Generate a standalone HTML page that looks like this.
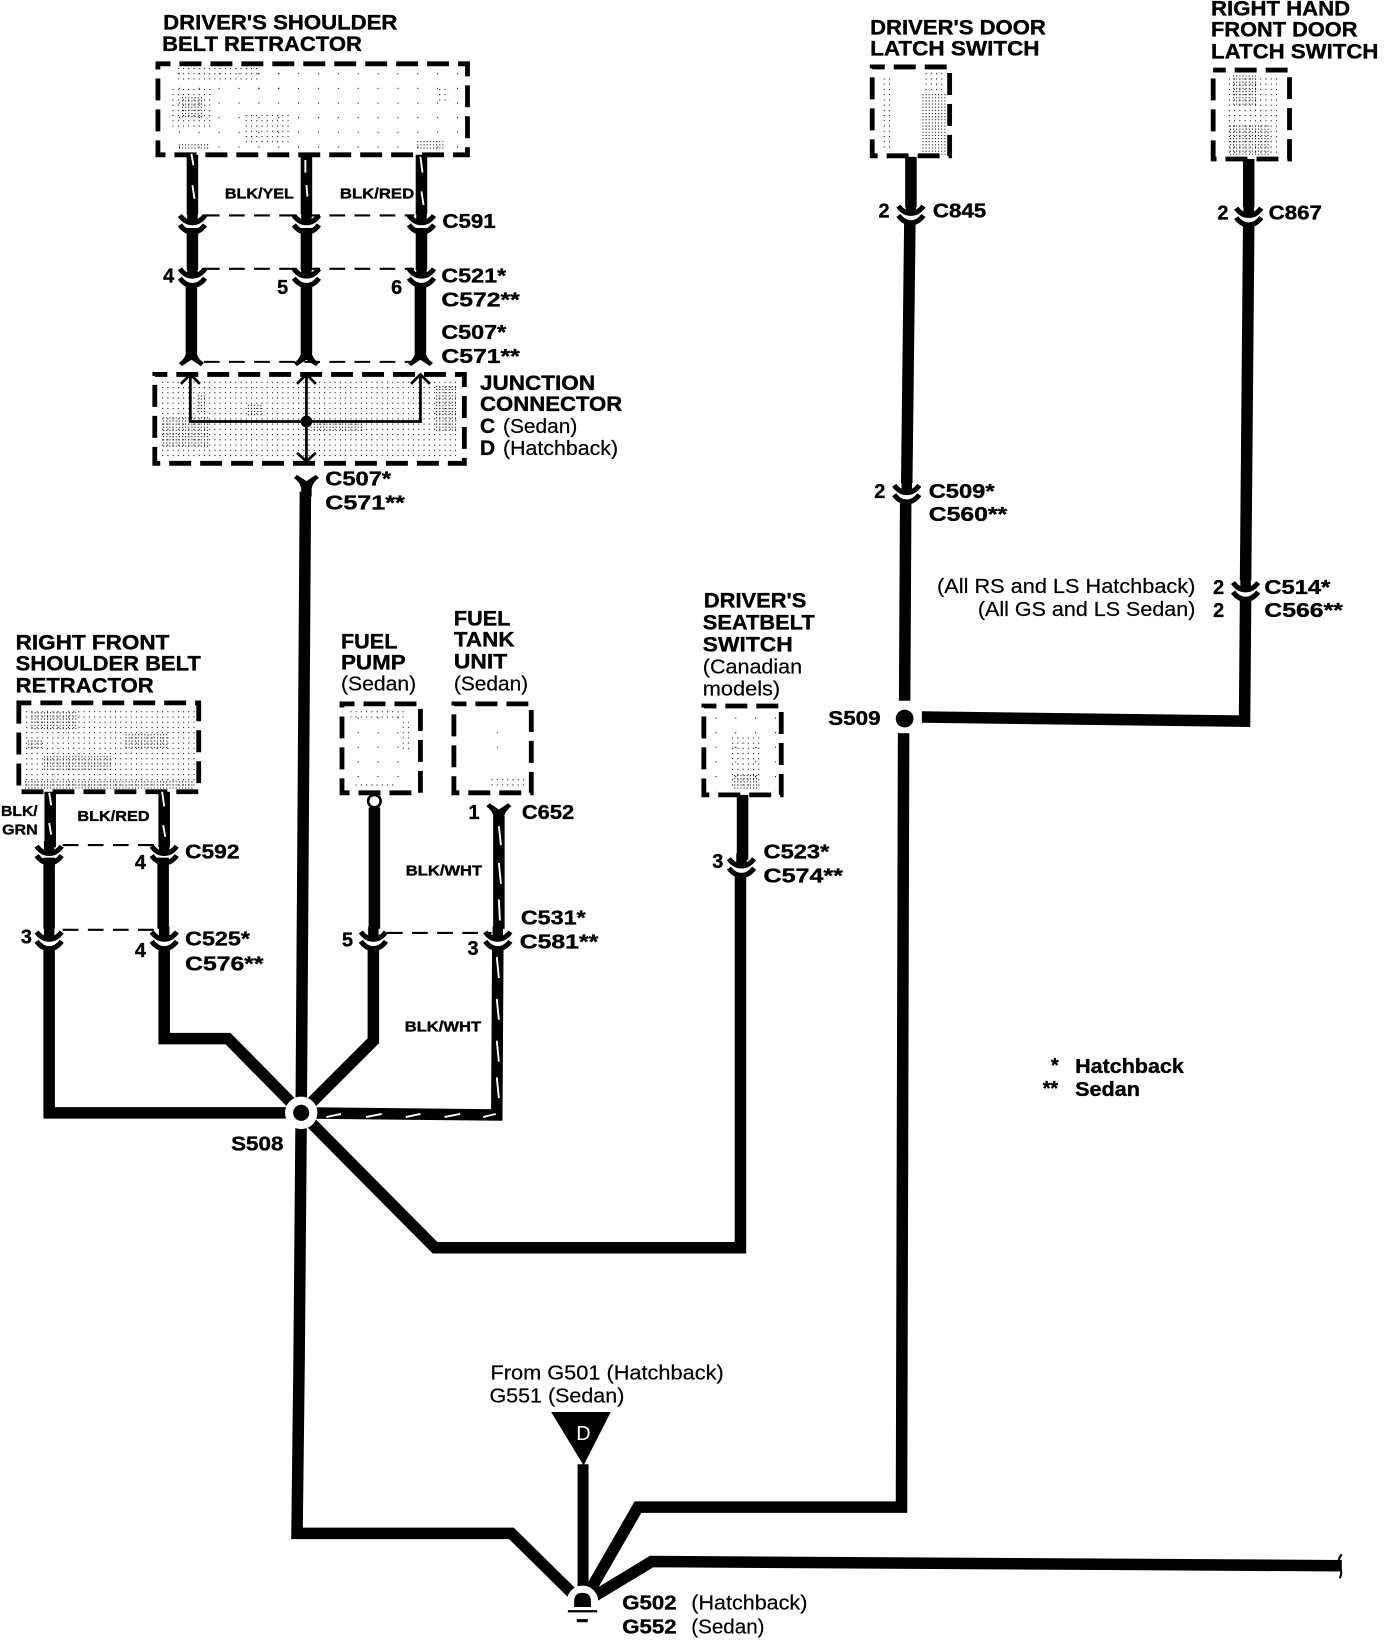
<!DOCTYPE html>
<html><head><meta charset="utf-8"><style>
html,body{margin:0;padding:0;background:#fff;width:1392px;height:1640px;overflow:hidden}
svg{display:block}
text{font-family:"Liberation Sans",sans-serif;fill:#000}
.b{font-weight:bold;font-size:20px}
.b text,.n text,.s text{stroke:#000;stroke-width:.35}
.n{font-weight:bold;font-size:19px}
.s{font-weight:bold;font-size:14px}
.r{font-size:19px}
.r text{stroke:#000;stroke-width:.2}
.w{fill:none;stroke:#000;stroke-width:11;stroke-linejoin:miter}
.d{fill:none;stroke:#000;stroke-width:2;stroke-dasharray:15 9}
.x{fill:none;stroke:#000;stroke-width:4.6;stroke-dasharray:21 8.6;stroke-dashoffset:9}
.t{fill:none;stroke:#fff;stroke-width:1.8}
.i{fill:none;stroke:#000;stroke-width:2.6}
</style></head><body>
<svg xmlns="http://www.w3.org/2000/svg" width="1392" height="1640" viewBox="0 0 1331 1568" preserveAspectRatio="none">
<defs>
<pattern id="p1" width="3" height="3" patternUnits="userSpaceOnUse"><rect width="1" height="1" fill="#000"/></pattern>
<pattern id="p2" width="5" height="5" patternUnits="userSpaceOnUse"><rect width="1" height="1" fill="#000"/></pattern>
<pattern id="p3" width="19" height="14" patternUnits="userSpaceOnUse"><rect width="1" height="1" fill="#000"/></pattern>
<g id="c">
<path d="M-5-14H5V-3H-5Z"/>
<path d="M-12-9Q-7-2 0-2Q7-2 12-9" fill="none" stroke="#000" stroke-width="4.8"/>
<path d="M-12 0Q-7 7 0 7Q7 7 12 0" fill="none" stroke="#000" stroke-width="4.8"/>
</g>
<path id="f" d="M-5-14H5V-6Q6 0 12 4L9 7Q3 3 0 1Q-3 3-9 7L-12 4Q-6 0-5-6Z"/>
<g id="y"><use href="#f" transform="scale(1,-1)"/></g>
</defs>
<rect width="1331" height="1568" fill="#fff"/>

<!-- driver's shoulder belt retractor -->
<rect x="155" y="65" width="288" height="80" fill="url(#p3)"/>
<rect x="170" y="64" width="24" height="12" fill="url(#p2)"/><rect x="194" y="64" width="55" height="12" fill="url(#p2)"/>
<rect x="162" y="85" width="42" height="37" fill="url(#p2)"/><rect x="172" y="92" width="22" height="22" fill="url(#p1)"/>
<rect x="232" y="108" width="44" height="30" fill="url(#p2)"/><rect x="232" y="67" width="39" height="29" fill="url(#p3)"/>
<rect x="170" y="137" width="31" height="6" fill="url(#p1)"/><rect x="417" y="83" width="13" height="16" fill="url(#p2)"/><rect x="398" y="134" width="26" height="9" fill="url(#p1)"/>
<rect class="x" x="151" y="61" width="296" height="87"/>
<!-- junction -->
<rect x="152" y="363" width="287" height="76" fill="url(#p2)"/>
<rect x="154" y="398" width="46" height="30" fill="url(#p1)"/><rect x="416" y="368" width="20" height="46" fill="url(#p1)"/>
<rect x="296" y="405" width="51" height="9" fill="url(#p1)"/><rect x="188" y="376" width="9" height="19" fill="url(#p1)"/><rect x="236" y="385" width="16" height="13" fill="url(#p1)"/>
<rect class="x" x="148" y="358" width="296" height="85"/>
<!-- right front -->
<rect x="22" y="676" width="164" height="78" fill="url(#p2)"/>
<rect x="29" y="679" width="44" height="19" fill="url(#p1)"/><rect x="22" y="745" width="164" height="9" fill="url(#p1)"/>
<rect x="118" y="701" width="44" height="16" fill="url(#p1)"/><rect x="41" y="723" width="67" height="13" fill="url(#p1)"/>
<rect x="25" y="707" width="16" height="10" fill="url(#p1)"/>
<rect class="x" x="18" y="672" width="172" height="85"/>
<!-- small boxes -->
<rect x="332" y="678" width="65" height="76" fill="url(#p3)"/><rect x="335" y="678" width="55" height="8" fill="url(#p2)"/><rect x="340" y="748" width="40" height="7" fill="url(#p2)"/><rect x="385" y="690" width="10" height="30" fill="url(#p2)"/>
<rect class="x" x="327" y="673" width="75" height="85"/>
<rect x="470" y="742" width="32" height="12" fill="url(#p2)"/><rect x="465" y="700" width="15" height="15" fill="url(#p3)"/>
<rect class="x" x="434" y="673" width="74" height="85"/>
<rect x="678" y="680" width="64" height="76" fill="url(#p3)"/><rect x="698" y="705" width="30" height="50" fill="url(#p2)"/><rect x="702" y="740" width="24" height="14" fill="url(#p1)"/>
<rect class="x" x="673" y="675" width="74" height="85"/>
<rect x="841" y="75" width="13" height="70" fill="url(#p2)"/><rect x="880" y="88" width="25" height="60" fill="url(#p1)"/><rect x="885" y="68" width="18" height="20" fill="url(#p2)"/>
<rect class="x" x="834" y="64" width="74" height="85"/>
<rect x="1171" y="72" width="50" height="76" fill="url(#p2)"/><rect x="1175" y="120" width="40" height="28" fill="url(#p1)"/><rect x="1178" y="72" width="25" height="30" fill="url(#p1)"/>
<rect class="x" x="1160" y="67" width="73" height="85"/>

<!-- top wires -->
<path class="w" d="M184 148V205M184 218V258M183 272V338"/>
<path class="w" d="M293 148V205M293 218V258M293 272V338"/>
<path class="w" d="M403 148V205M403 218V258M402 272V338"/>
<path class="t" d="M183 147L185 158M184 177L186 190M292 153V165M293 177L294 188M402 150L404 165M403 183L405 196"/>
<path class="d" d="M195 206H396M195 257H396M195 346H396"/>
<use href="#c" x="184" y="215"/><use href="#c" x="293" y="215"/><use href="#c" x="403" y="215"/>
<use href="#c" x="184" y="266"/><use href="#c" x="293" y="266"/><use href="#c" x="403" y="266"/>
<use href="#f" x="183" y="343"/><use href="#f" x="293" y="343"/><use href="#f" x="402" y="343"/>
<!-- junction inner -->
<path class="i" d="M182 358V403H402V358M293 358V441"/>
<circle cx="293" cy="403" r="5.6"/>
<path class="i" d="M173 367L182 358L191 367M284 367L293 358L302 367M393 367L402 358L411 367M284 433L293 441L302 433"/>
<!-- S508 trunk -->
<use href="#y" x="293" y="461"/>
<path class="w" d="M292 470L288 1064L286 1300L284 1466H489L557 1533"/>
<!-- right front wires -->
<path class="w" d="M48 757V810M47 820V888M47 905V1064H288"/>
<path class="w" d="M157 757V810M156 820V888M157 905V993H218L288 1064"/>
<path class="t" d="M47 758L49 770M47 787L49 798M155 757L157 771M156 789L158 800"/>
<path class="d" d="M60 808H150M60 889H150"/>
<use href="#c" x="47" y="818"/><use href="#c" x="157" y="818"/><use href="#c" x="47" y="900"/><use href="#c" x="157" y="900"/>
<!-- fuel pump -->
<circle cx="358" cy="766" r="6" fill="#fff" stroke="#000" stroke-width="2.5"/>
<path class="w" d="M358 772V888M357 905V995L288 1064"/>
<use href="#c" x="357" y="900"/>
<path class="d" d="M370 892H470"/>
<!-- fuel tank -->
<use href="#y" x="477" y="775"/>
<path class="w" d="M477 780V888M476 905L475 1066L288 1064"/>
<path class="t" d="M477 790L479 808M477 825L479 845M477 860L478 880M475 915L477 935M475 955L477 975M475 995L477 1015M475 1030L477 1050M312 1068L326 1065M350 1068L365 1065M388 1068L402 1065M425 1068L440 1065M462 1068L474 1065"/>
<use href="#c" x="476" y="900"/>
<!-- seatbelt -->
<path class="w" d="M710 760V822M708 838V1193H416L288 1064"/>
<use href="#c" x="709" y="830"/>
<!-- door -->
<path class="w" d="M871 150V198M870 212L867 462M866 480L865 670M864 701L862 1441H610L557 1533"/>
<use href="#c" x="871" y="206"/><use href="#c" x="867" y="473"/>
<circle cx="865" cy="687" r="8.5"/>
<path class="w" d="M1194 152V198M1194 214L1191 555M1191 572L1190 689.5L881.5 685.5"/>
<use href="#c" x="1194" y="208"/><use href="#c" x="1191" y="566"/>
<!-- S508 -->
<circle cx="288" cy="1064" r="15.5" fill="#fff"/><circle cx="288" cy="1064" r="7.7" fill="#000"/>
<!-- ground -->
<path d="M527 1350H584L558 1401Z"/>
<path d="M557.5 1400V1530" stroke="#000" stroke-width="10.5" fill="none"/>
<path class="w" d="M557 1533L623 1493L1283 1497"/>
<path d="M1283 1486Q1278 1492 1281 1498Q1284 1503 1281 1509" fill="none" stroke="#000" stroke-width="2"/>
<path d="M535 1533H580V1568H535Z" fill="#fff"/>
<circle cx="557" cy="1531" r="15" fill="#fff"/>
<path d="M549 1536.5V1531Q549 1523 557 1523Q565 1523 565 1531V1536.5Z"/>
<path d="M543 1540.5H571" stroke="#000" stroke-width="2.2"/>
<path d="M551.5 1549.5H562" stroke="#000" stroke-width="3"/>

<!-- labels -->
<g class="b">
<text x="156" y="28" textLength="224" lengthAdjust="spacingAndGlyphs">DRIVER'S SHOULDER</text>
<text x="155" y="49" textLength="191" lengthAdjust="spacingAndGlyphs">BELT RETRACTOR</text>
<text x="459" y="373" textLength="110" lengthAdjust="spacingAndGlyphs">JUNCTION</text>
<text x="459" y="393" textLength="136" lengthAdjust="spacingAndGlyphs">CONNECTOR</text>
<text x="459" y="414">C</text><text x="459" y="435">D</text>
<text x="15" y="621" textLength="147" lengthAdjust="spacingAndGlyphs">RIGHT FRONT</text>
<text x="15" y="641" textLength="177" lengthAdjust="spacingAndGlyphs">SHOULDER BELT</text>
<text x="15" y="662" textLength="132" lengthAdjust="spacingAndGlyphs">RETRACTOR</text>
<text x="326" y="620" textLength="54" lengthAdjust="spacingAndGlyphs">FUEL</text>
<text x="326" y="640" textLength="62" lengthAdjust="spacingAndGlyphs">PUMP</text>
<text x="434" y="598" textLength="54" lengthAdjust="spacingAndGlyphs">FUEL</text>
<text x="434" y="618" textLength="58" lengthAdjust="spacingAndGlyphs">TANK</text>
<text x="434" y="639" textLength="51" lengthAdjust="spacingAndGlyphs">UNIT</text>
<text x="673" y="581" textLength="98" lengthAdjust="spacingAndGlyphs">DRIVER'S</text>
<text x="672" y="602" textLength="107" lengthAdjust="spacingAndGlyphs">SEATBELT</text>
<text x="672" y="623" textLength="86" lengthAdjust="spacingAndGlyphs">SWITCH</text>
<text x="832" y="33" textLength="168" lengthAdjust="spacingAndGlyphs">DRIVER'S DOOR</text>
<text x="832" y="53" textLength="162" lengthAdjust="spacingAndGlyphs">LATCH SWITCH</text>
<text x="1158" y="15" textLength="133" lengthAdjust="spacingAndGlyphs">RIGHT HAND</text>
<text x="1158" y="35" textLength="140" lengthAdjust="spacingAndGlyphs">FRONT DOOR</text>
<text x="1158" y="56" textLength="160" lengthAdjust="spacingAndGlyphs">LATCH SWITCH</text>
</g>
<g class="s">
<text x="215" y="190" textLength="66" lengthAdjust="spacingAndGlyphs">BLK/YEL</text>
<text x="325" y="190" textLength="71" lengthAdjust="spacingAndGlyphs">BLK/RED</text>
<text x="1" y="780" textLength="35" lengthAdjust="spacingAndGlyphs">BLK/</text>
<text x="2" y="798" textLength="34" lengthAdjust="spacingAndGlyphs">GRN</text>
<text x="74" y="785" textLength="69" lengthAdjust="spacingAndGlyphs">BLK/RED</text>
<text x="388" y="837" textLength="73" lengthAdjust="spacingAndGlyphs">BLK/WHT</text>
<text x="387" y="986" textLength="73" lengthAdjust="spacingAndGlyphs">BLK/WHT</text>
</g>
<g class="n">
<text x="423" y="218" textLength="51" lengthAdjust="spacingAndGlyphs">C591</text>
<text x="156" y="270">4</text><text x="265" y="281">5</text><text x="374" y="281">6</text>
<text x="422" y="270" textLength="62" lengthAdjust="spacingAndGlyphs">C521*</text>
<text x="422" y="293" textLength="75" lengthAdjust="spacingAndGlyphs">C572**</text>
<text x="422" y="324" textLength="62" lengthAdjust="spacingAndGlyphs">C507*</text>
<text x="422" y="347" textLength="75" lengthAdjust="spacingAndGlyphs">C571**</text>
<text x="311" y="464" textLength="63" lengthAdjust="spacingAndGlyphs">C507*</text>
<text x="311" y="487" textLength="76" lengthAdjust="spacingAndGlyphs">C571**</text>
<text x="177" y="821" textLength="52" lengthAdjust="spacingAndGlyphs">C592</text>
<text x="129" y="831">4</text><text x="20" y="902">3</text><text x="129" y="915">4</text>
<text x="177" y="904" textLength="62" lengthAdjust="spacingAndGlyphs">C525*</text>
<text x="177" y="928" textLength="75" lengthAdjust="spacingAndGlyphs">C576**</text>
<text x="448" y="783">1</text>
<text x="499" y="783" textLength="50" lengthAdjust="spacingAndGlyphs">C652</text>
<text x="498" y="884" textLength="62" lengthAdjust="spacingAndGlyphs">C531*</text>
<text x="497" y="907" textLength="75" lengthAdjust="spacingAndGlyphs">C581**</text>
<text x="327" y="905">5</text><text x="447" y="913">3</text>
<text x="730" y="821" textLength="63" lengthAdjust="spacingAndGlyphs">C523*</text>
<text x="730" y="844" textLength="76" lengthAdjust="spacingAndGlyphs">C574**</text>
<text x="681" y="830">3</text>
<text x="221" y="1100" textLength="50" lengthAdjust="spacingAndGlyphs">S508</text>
<text x="792" y="693" textLength="50" lengthAdjust="spacingAndGlyphs">S509</text>
<text x="840" y="208">2</text>
<text x="892" y="208" textLength="51" lengthAdjust="spacingAndGlyphs">C845</text>
<text x="1164" y="210">2</text>
<text x="1213" y="210" textLength="51" lengthAdjust="spacingAndGlyphs">C867</text>
<text x="836" y="476">2</text>
<text x="888" y="476" textLength="63" lengthAdjust="spacingAndGlyphs">C509*</text>
<text x="888" y="498" textLength="75" lengthAdjust="spacingAndGlyphs">C560**</text>
<text x="1160" y="568">2</text><text x="1160" y="590">2</text>
<text x="1209" y="568" textLength="63" lengthAdjust="spacingAndGlyphs">C514*</text>
<text x="1209" y="590" textLength="75" lengthAdjust="spacingAndGlyphs">C566**</text>
<text x="1005" y="1025">*</text>
<text x="1028" y="1026" textLength="104" lengthAdjust="spacingAndGlyphs">Hatchback</text>
<text x="997" y="1047">**</text>
<text x="1028" y="1048" textLength="62" lengthAdjust="spacingAndGlyphs">Sedan</text>
<text x="595" y="1539" textLength="52" lengthAdjust="spacingAndGlyphs">G502</text>
<text x="595" y="1562" textLength="52" lengthAdjust="spacingAndGlyphs">G552</text>
</g>
<g class="r">
<text x="481" y="414" textLength="71" lengthAdjust="spacingAndGlyphs">(Sedan)</text>
<text x="481" y="435" textLength="110" lengthAdjust="spacingAndGlyphs">(Hatchback)</text>
<text x="326" y="660" textLength="72" lengthAdjust="spacingAndGlyphs">(Sedan)</text>
<text x="434" y="660" textLength="71" lengthAdjust="spacingAndGlyphs">(Sedan)</text>
<text x="672" y="644" textLength="95" lengthAdjust="spacingAndGlyphs">(Canadian</text>
<text x="672" y="665" textLength="74" lengthAdjust="spacingAndGlyphs">models)</text>
<text x="896" y="567" textLength="247" lengthAdjust="spacingAndGlyphs">(All RS and LS Hatchback)</text>
<text x="935" y="589" textLength="208" lengthAdjust="spacingAndGlyphs">(All GS and LS Sedan)</text>
<text x="469" y="1319" textLength="223" lengthAdjust="spacingAndGlyphs">From G501 (Hatchback)</text>
<text x="468" y="1341" textLength="129" lengthAdjust="spacingAndGlyphs">G551 (Sedan)</text>
<text x="661" y="1539" textLength="111" lengthAdjust="spacingAndGlyphs">(Hatchback)</text>
<text x="661" y="1562" textLength="70" lengthAdjust="spacingAndGlyphs">(Sedan)</text>
<text x="551" y="1377" style="fill:#fff;stroke:none">D</text>
</g>
</svg>
</body></html>
